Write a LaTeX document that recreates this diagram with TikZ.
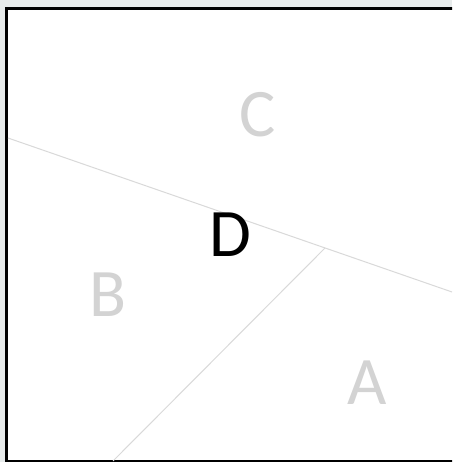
\documentclass[tikz,border=0pt]{standalone}
\usepackage{fontspec}
\setmainfont{Carlito}
\definecolor{bgc}{HTML}{E7EBEB}
\definecolor{linec}{HTML}{D9D9D9}
\definecolor{letc}{HTML}{D3D3D3}
\begin{document}
\begin{tikzpicture}[x=1pt,y=1pt,
  lab/.style={anchor=base,inner sep=0pt,font=\fontsize{68}{68}\selectfont},
  region/.style={lab,text=letc},
  split/.style={draw=linec,line width=1pt}]
\useasboundingbox (0,0) rectangle (452,462);
\clip (0,0) rectangle (452,462);
\fill[bgc] (0,0) rectangle (452,462);
\draw[fill=white,line width=3pt] (6.5,0.5) rectangle (470,453.5);
\coordinate (L1) at (8,324);
\coordinate (R1) at (452,170);
\coordinate (J) at (325,214);
\coordinate (B2) at (113,1);
\draw[split] (L1) -- (R1);
\draw[split] (J) -- (B2);
\node[region] (C) at (258,325) {C};
\node[region] (B) at (108,145) {B};
\node[region] (A) at (367,57) {A};
\node[lab] (D) at (230,205) {D};
\end{tikzpicture}
\end{document}
